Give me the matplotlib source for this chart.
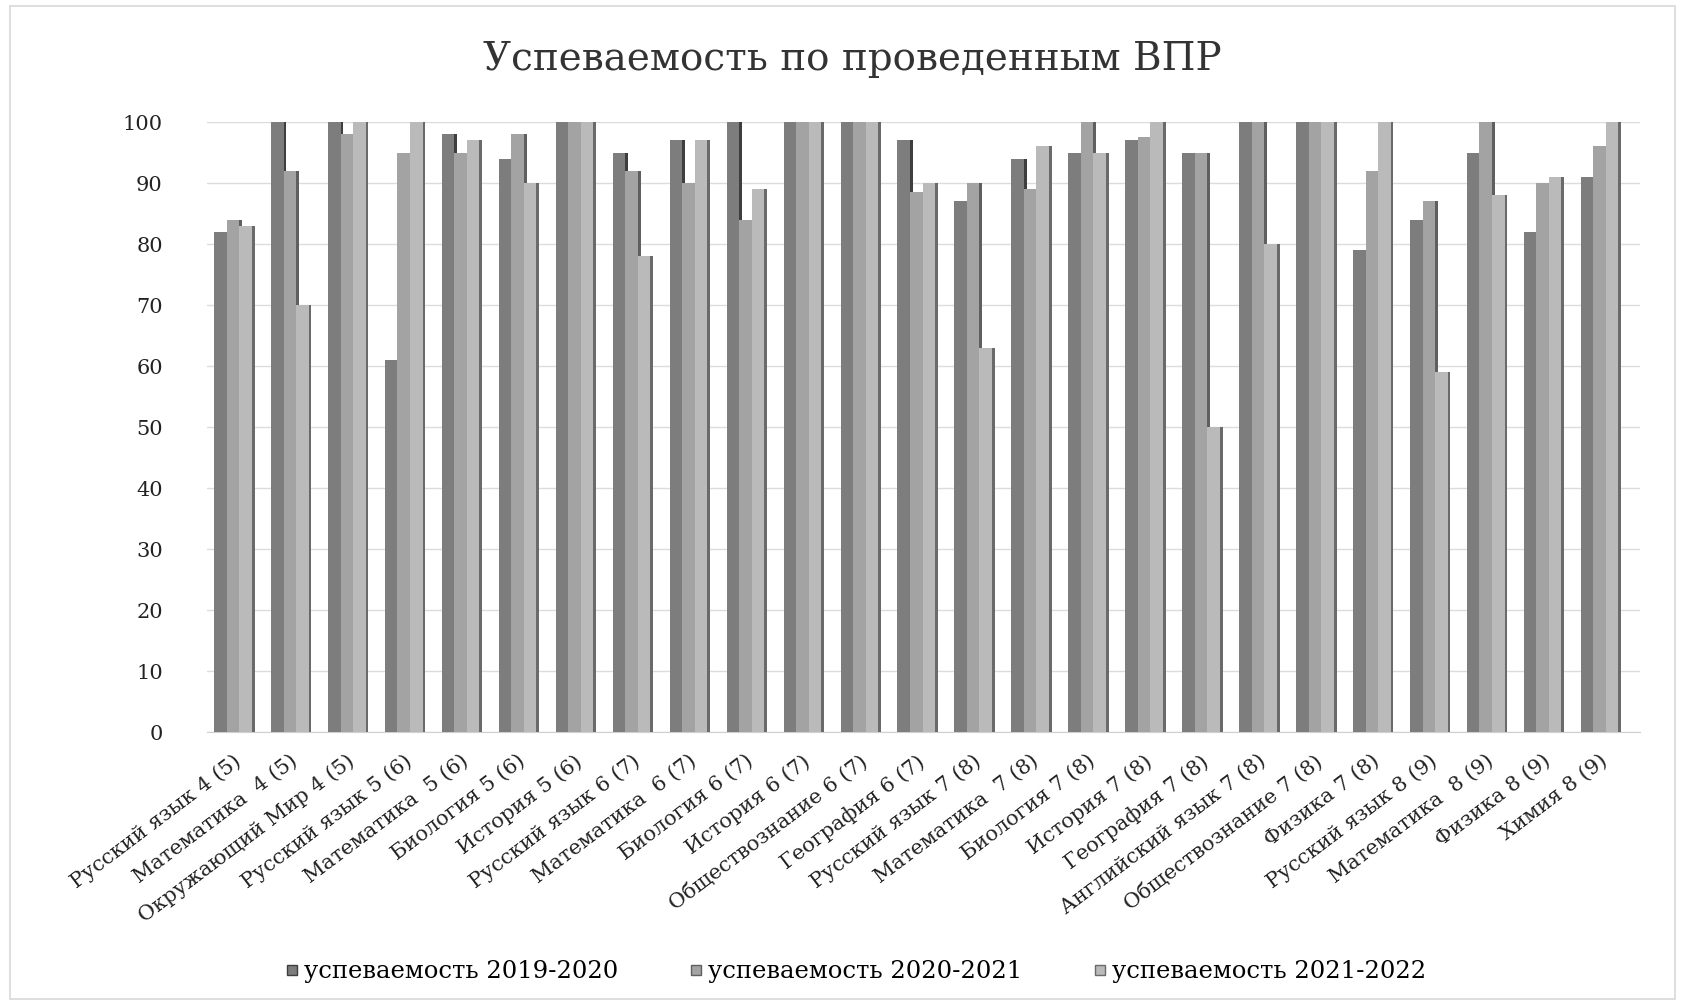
import matplotlib
matplotlib.use("Agg")
import matplotlib.pyplot as plt
from matplotlib.lines import Line2D
from matplotlib.patches import Rectangle
import numpy as np

categories = [
    "Русский язык 4 (5)", "Математика  4 (5)", "Окружающий Мир 4 (5)",
    "Русский язык 5 (6)", "Математика  5 (6)", "Биология 5 (6)",
    "История 5 (6)", "Русский язык 6 (7)", "Математика  6 (7)",
    "Биология 6 (7)", "История 6 (7)", "Обществознание 6 (7)",
    "География 6 (7)", "Русский язык 7 (8)", "Математика  7 (8)",
    "Биология 7 (8)", "История 7 (8)", "География 7 (8)",
    "Английский язык 7 (8)", "Обществознание 7 (8)", "Физика 7 (8)",
    "Русский язык 8 (9)", "Математика  8 (9)", "Физика 8 (9)", "Химия 8 (9)",
]
series_names = ["успеваемость 2019-2020", "успеваемость 2020-2021", "успеваемость 2021-2022"]
s2019 = [82, 100, 100, 61, 98, 94, 100, 95, 97, 100, 100, 100, 97, 87, 94, 95, 97, 95, 100, 100, 79, 84, 95, 82, 91]
s2020 = [84, 92, 98, 95, 95, 98, 100, 92, 90, 84, 100, 100, 88.5, 90, 89, 100, 97.5, 95, 100, 100, 92, 87, 100, 90, 96]
s2021 = [83, 70, 100, 100, 97, 90, 100, 78, 97, 89, 100, 100, 90, 63, 96, 95, 100, 50, 80, 100, 100, 59, 88, 91, 100]
yticks = [0, 10, 20, 30, 40, 50, 60, 70, 80, 90, 100]

face_colors = ["#7d7d7d", "#a3a3a3", "#bababa"]
side_colors = ["#3e3e3e", "#5f5f5f", "#6a6a6a"]

serif = ["DejaVu Serif", "Liberation Serif"]
plt.rcParams["font.family"] = serif

fig = plt.figure(figsize=(16.85, 10.05), dpi=100)
ax = fig.add_axes([0.123, 0.2716, 0.850, 0.607])

x = np.arange(len(categories))
w = 0.22
d = 0.05
offsets = [-w, 0.0, w]
for i, vals in enumerate([s2019, s2020, s2021]):
    xs = x + offsets[i]
    ax.bar(xs + w / 2 + d / 2, vals, width=d, color=side_colors[i],
           zorder=2 + 2 * i, linewidth=0, clip_on=False)
    ax.bar(xs, vals, width=w, color=face_colors[i],
           zorder=3 + 2 * i, linewidth=0, clip_on=False)

ax.set_xlim(-0.45, len(categories) - 0.3)
ax.set_ylim(0, 100)
ax.set_yticks(yticks)
ax.set_yticklabels([str(t) for t in yticks], fontsize=15, color="#222222")
ax.yaxis.grid(True, color="#dcdcdc", linewidth=1.0, zorder=0)
ax.set_axisbelow(True)
ax.tick_params(axis="y", length=0, pad=32)
ax.tick_params(axis="x", length=0, pad=14)
ax.set_xticks(x)
ax.set_xticklabels(categories, rotation=37, ha="right", rotation_mode="anchor",
                   fontsize=15, color="#222222")
for s in ["top", "right", "left"]:
    ax.spines[s].set_visible(False)
ax.spines["bottom"].set_color("#cfcfcf")

fig.text(0.506, 0.941, "Успеваемость по проведенным ВПР", ha="center", va="center",
         fontsize=28, color="#333333")

handles = [Line2D([0], [0], marker="s", linestyle="none", markersize=7,
                  markerfacecolor=face_colors[i], markeredgecolor=side_colors[i])
           for i in range(3)]
fig.legend(handles, series_names, loc="center", bbox_to_anchor=(0.507, 0.033),
           ncol=3, frameon=False, fontsize=17.5, handletextpad=0.1,
           columnspacing=2.8, handlelength=0.8)

fig.add_artist(Rectangle((0.006, 0.006), 0.988, 0.988, transform=fig.transFigure,
                         fill=False, edgecolor="#d8d8d8", linewidth=1.2))

fig.savefig("out.png", dpi=100, facecolor="white")
